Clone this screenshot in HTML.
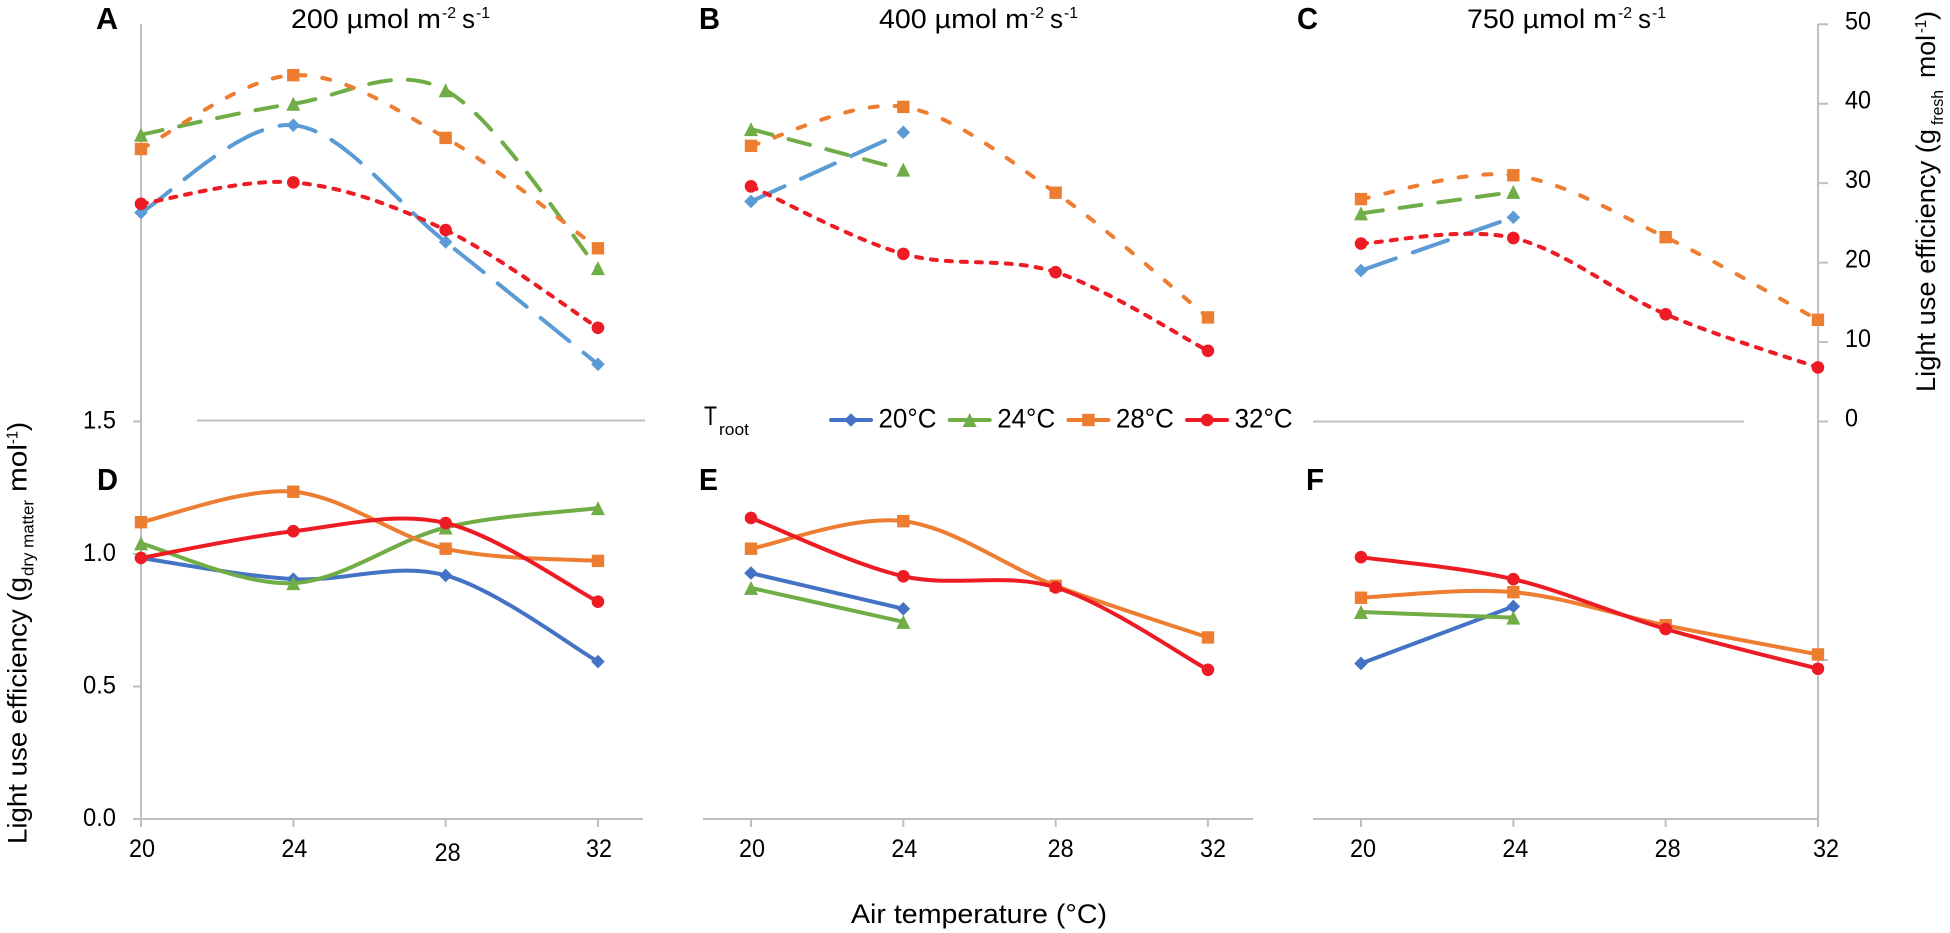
<!DOCTYPE html>
<html lang="en">
<head>
<meta charset="utf-8">
<title>Light use efficiency charts</title>
<style>
html,body{margin:0;padding:0;background:#fff;width:1950px;height:933px;overflow:hidden}
svg{display:block;font-family:"Liberation Sans",sans-serif;fill:#000}
</style>
</head>
<body>
<svg id="chart" xmlns="http://www.w3.org/2000/svg" width="1950" height="933" viewBox="0 0 1950 933">
  <rect x="0" y="0" width="1950" height="933" fill="#fff"/>

  <g id="axes"></g>
  <g id="series"></g>

  <g font-weight="bold" font-size="31">
    <text x="96" y="29" textLength="22" lengthAdjust="spacingAndGlyphs">A</text>
    <text x="699" y="29" textLength="21" lengthAdjust="spacingAndGlyphs">B</text>
    <text x="1297" y="29" textLength="21" lengthAdjust="spacingAndGlyphs">C</text>
    <text x="97" y="490" textLength="21" lengthAdjust="spacingAndGlyphs">D</text>
    <text x="699" y="490" textLength="19" lengthAdjust="spacingAndGlyphs">E</text>
    <text x="1306" y="490" textLength="18" lengthAdjust="spacingAndGlyphs">F</text>
  </g>

  <g font-size="27">
    <text x="291" y="28" textLength="150" lengthAdjust="spacingAndGlyphs">200 µmol m</text>
    <text x="442" y="18" font-size="16" textLength="14" lengthAdjust="spacingAndGlyphs">-2</text>
    <text x="462" y="28" textLength="13" lengthAdjust="spacingAndGlyphs">s</text>
    <text x="476" y="18" font-size="16" textLength="14" lengthAdjust="spacingAndGlyphs">-1</text>
  </g>
  <g font-size="27">
    <text x="879" y="28" textLength="150" lengthAdjust="spacingAndGlyphs">400 µmol m</text>
    <text x="1030" y="18" font-size="16" textLength="14" lengthAdjust="spacingAndGlyphs">-2</text>
    <text x="1050" y="28" textLength="13" lengthAdjust="spacingAndGlyphs">s</text>
    <text x="1064" y="18" font-size="16" textLength="14" lengthAdjust="spacingAndGlyphs">-1</text>
  </g>
  <g font-size="27">
    <text x="1467" y="28" textLength="150" lengthAdjust="spacingAndGlyphs">750 µmol m</text>
    <text x="1618" y="18" font-size="16" textLength="14" lengthAdjust="spacingAndGlyphs">-2</text>
    <text x="1638" y="28" textLength="13" lengthAdjust="spacingAndGlyphs">s</text>
    <text x="1652" y="18" font-size="16" textLength="14" lengthAdjust="spacingAndGlyphs">-1</text>
  </g>

  <g font-size="27" transform="translate(26.5 0) rotate(-90)">
    <text x="-844" y="0" textLength="267" lengthAdjust="spacingAndGlyphs">Light use efficiency (g</text>
    <text x="-576" y="7" font-size="17" textLength="76" lengthAdjust="spacingAndGlyphs">dry matter</text>
    <text x="-492" y="0" textLength="48" lengthAdjust="spacingAndGlyphs">mol</text>
    <text x="-444" y="-9" font-size="16" textLength="13" lengthAdjust="spacingAndGlyphs">-1</text>
    <text x="-431" y="0" textLength="9" lengthAdjust="spacingAndGlyphs">)</text>
  </g>
  <g font-size="27" transform="translate(1935 0) rotate(-90)">
    <text x="-392" y="0" textLength="263" lengthAdjust="spacingAndGlyphs">Light use efficiency (g</text>
    <text x="-125" y="8" font-size="17" textLength="35" lengthAdjust="spacingAndGlyphs">fresh</text>
    <text x="-78" y="0" textLength="43" lengthAdjust="spacingAndGlyphs">mol</text>
    <text x="-33" y="-9" font-size="16" textLength="13" lengthAdjust="spacingAndGlyphs">-1</text>
    <text x="-20" y="0" textLength="9" lengthAdjust="spacingAndGlyphs">)</text>
  </g>

  <text x="851" y="923" font-size="27" textLength="256" lengthAdjust="spacingAndGlyphs">Air temperature (°C)</text>

  <g id="legend">
    <text x="704" y="425" font-size="27" textLength="13" lengthAdjust="spacingAndGlyphs">T</text>
    <text x="719" y="435" font-size="17" textLength="30" lengthAdjust="spacingAndGlyphs">root</text>
  </g>
</svg>

<script>
const categories = [20, 24, 28, 32];
const seriesNames = ['20°C', '24°C', '28°C', '32°C'];

const panelA20 = [26.3, 37.3, 22.6, 7.2];
const panelA24 = [36.1, 40.0, 41.7, 19.3];
const panelA28 = [34.3, 43.6, 35.7, 21.8];
const panelA32 = [27.4, 30.1, 24.1, 11.8];

const panelB20 = [27.7, 36.4, null, null];
const panelB24 = [36.8, 31.7, null, null];
const panelB28 = [34.7, 39.6, 28.8, 13.1];
const panelB32 = [29.6, 21.1, 18.8, 8.9];

const panelC20 = [19.0, 25.7, null, null];
const panelC24 = [26.2, 28.9, null, null];
const panelC28 = [28.0, 31.0, 23.2, 12.8];
const panelC32 = [22.4, 23.1, 13.5, 6.8];

const panelD20 = [0.985, 0.905, 0.919, 0.594];
const panelD24 = [1.04, 0.89, 1.10, 1.173];
const panelD28 = [1.12, 1.235, 1.02, 0.974];
const panelD32 = [0.985, 1.086, 1.117, 0.82];

const panelE20 = [0.928, 0.793, null, null];
const panelE24 = [0.872, 0.744, null, null];
const panelE28 = [1.02, 1.124, 0.88, 0.685];
const panelE32 = [1.136, 0.916, 0.874, 0.563];

const panelF20 = [0.587, 0.802, null, null];
const panelF24 = [0.781, 0.76, null, null];
const panelF28 = [0.835, 0.856, 0.731, 0.621];
const panelF32 = [0.988, 0.905, 0.717, 0.567];

const freshTicks = [50, 40, 30, 20, 10, 0];
const dryTicks = [1.5, 1.0, 0.5, 0.0];
const dryTickLabels = ['1.5', '1.0', '0.5', '0.0'];
const xTickLabels = ['20', '24', '28', '32'];

const NS = 'http://www.w3.org/2000/svg';
const axesG = document.getElementById('axes');
const seriesG = document.getElementById('series');
const legendG = document.getElementById('legend');

function xA(c) { return 141 + (c - 20) * 38.08; }
function xB(c) { return 751 + (c - 20) * 38.08; }
function xC(c) { return 1361 + (c - 20) * 38.08; }
function yFresh(v) { return 421.5 - v * 7.944; }
function yDry(v) { return 819 - v * 265; }

function make(tag, attrs, parent) {
  const el = document.createElementNS(NS, tag);
  for (const k in attrs) el.setAttribute(k, attrs[k]);
  parent.appendChild(el);
  return el;
}

function grayLine(x1, y1, x2, y2, name) {
  const el = make('line', { x1: x1, y1: y1, x2: x2, y2: y2, stroke: '#bfbfbf', 'stroke-width': 2 }, axesG);
  
  
}

function label(str, x, y, width, name) {
  const el = make('text', { x: x, y: y, 'font-size': 25, textLength: width, lengthAdjust: 'spacingAndGlyphs' }, axesG);
  el.textContent = str;
  
  
}

function markerPath(shape, x, y) {
  if (shape === 'diamond') return 'M' + x + ' ' + (y - 6.8) + 'L' + (x + 6.8) + ' ' + y + 'L' + x + ' ' + (y + 6.8) + 'L' + (x - 6.8) + ' ' + y + 'Z';
  if (shape === 'triangle') return 'M' + x + ' ' + (y - 7) + 'L' + (x + 7) + ' ' + (y + 7) + 'L' + (x - 7) + ' ' + (y + 7) + 'Z';
  if (shape === 'square') return 'M' + (x - 6.2) + ' ' + (y - 6.2) + 'h12.4v12.4h-12.4Z';
  return 'M' + (x - 6.3) + ' ' + y + 'a6.3 6.3 0 1 0 12.6 0a6.3 6.3 0 1 0 -12.6 0Z';
}

function smoothPath(pts) {
  let d = 'M' + pts[0][0] + ' ' + pts[0][1];
  for (let i = 0; i < pts.length - 1; i++) {
    const p0 = pts[Math.max(i - 1, 0)];
    const p1 = pts[i];
    const p2 = pts[i + 1];
    const p3 = pts[Math.min(i + 2, pts.length - 1)];
    d += 'C' + (p1[0] + (p2[0] - p0[0]) / 6) + ' ' + (p1[1] + (p2[1] - p0[1]) / 6) + ' ' +
      (p2[0] - (p3[0] - p1[0]) / 6) + ' ' + (p2[1] - (p3[1] - p1[1]) / 6) + ' ' + p2[0] + ' ' + p2[1];
  }
  return d;
}

function drawSeries(values, xFn, yFn, color, dash, width, shape, name) {
  const pts = [];
  categories.forEach(function (c, i) {
    if (values[i] !== null) pts.push([xFn(c), yFn(values[i])]);
  });
  const g = make('g', {}, seriesG);
  
  
  const path = make('path', { d: smoothPath(pts), fill: 'none', stroke: color, 'stroke-width': width, 'stroke-dasharray': dash, 'stroke-linecap': 'round' }, g);
  
  
  pts.forEach(function (p) {
    const m = make('path', { d: markerPath(shape, p[0], p[1]), fill: color }, g);
    
    
  });
}

/* axes */
grayLine(141, 24, 141, 827, 'left-y-axis');
grayLine(1818, 24, 1818, 827, 'right-y-axis');
grayLine(133, 819, 643, 819, 'x-axis-left-panel');
grayLine(703, 819, 1253, 819, 'x-axis-middle-panel');
grayLine(1313, 819, 1818, 819, 'x-axis-right-panel');
grayLine(197, 420.5, 645, 420.5, 'separator-line-left');
grayLine(1313, 421.5, 1744, 421.5, 'separator-line-right');
grayLine(1818, 660, 1828, 660, 'right-axis-lower-tick');

categories.forEach(function (c, i) {
  grayLine(xA(c), 819, xA(c), 827, 'x-tick-left-panel');
  grayLine(xB(c), 819, xB(c), 827, 'x-tick-middle-panel');
  grayLine(xC(c), 819, xC(c), 827, 'x-tick-right-panel');
  const lift = i === 2 ? 4 : 0;
  label(xTickLabels[i], xA(c) - 12 + (i === 2 ? 1 : 0), 857 + lift, 26, 'x-tick-label-left-panel');
  label(xTickLabels[i], xB(c) - 12 + (i >= 2 ? 4 : 0), 857, 26, 'x-tick-label-middle-panel');
  label(xTickLabels[i], xC(c) - 11 + (i === 3 ? 6 : 0), 857, 26, 'x-tick-label-right-panel');
});

dryTicks.forEach(function (v, i) {
  grayLine(133, yDry(v), 141, yDry(v), 'left-y-tick');
  label(dryTickLabels[i], 83, yDry(v) + 7, 33, 'left-y-tick-label');
});

freshTicks.forEach(function (v) {
  grayLine(1818, yFresh(v), 1828, yFresh(v), 'right-y-tick');
  const s = String(v);
  label(s, 1845, yFresh(v) + 5, s.length === 2 ? 26 : 13, 'right-y-tick-label');
});

/* top panels: fresh-weight scale, dashed lines */
const topBlue = '#5b9bd5', green = '#70ad47', orange = '#ed7d31', red = '#ed1c24', lowBlue = '#4472c4';
const dashBlue = '37 18', dashGreen = '22 17', dashOrange = '8 17', dashRed = '6 9';

drawSeries(panelA20, xA, yFresh, topBlue, dashBlue, 4, 'diamond', 'panel-a-series-20');
drawSeries(panelA24, xA, yFresh, green, dashGreen, 4, 'triangle', 'panel-a-series-24');
drawSeries(panelA28, xA, yFresh, orange, dashOrange, 4, 'square', 'panel-a-series-28');
drawSeries(panelA32, xA, yFresh, red, dashRed, 4, 'circle', 'panel-a-series-32');

drawSeries(panelB20, xB, yFresh, topBlue, dashBlue, 4, 'diamond', 'panel-b-series-20');
drawSeries(panelB24, xB, yFresh, green, dashGreen, 4, 'triangle', 'panel-b-series-24');
drawSeries(panelB28, xB, yFresh, orange, dashOrange, 4, 'square', 'panel-b-series-28');
drawSeries(panelB32, xB, yFresh, red, dashRed, 4, 'circle', 'panel-b-series-32');

drawSeries(panelC20, xC, yFresh, topBlue, dashBlue, 4, 'diamond', 'panel-c-series-20');
drawSeries(panelC24, xC, yFresh, green, dashGreen, 4, 'triangle', 'panel-c-series-24');
drawSeries(panelC28, xC, yFresh, orange, dashOrange, 4, 'square', 'panel-c-series-28');
drawSeries(panelC32, xC, yFresh, red, dashRed, 4, 'circle', 'panel-c-series-32');

/* bottom panels: dry-matter scale, solid lines */
drawSeries(panelD20, xA, yDry, lowBlue, 'none', 4, 'diamond', 'panel-d-series-20');
drawSeries(panelD24, xA, yDry, green, 'none', 4, 'triangle', 'panel-d-series-24');
drawSeries(panelD28, xA, yDry, orange, 'none', 4, 'square', 'panel-d-series-28');
drawSeries(panelD32, xA, yDry, red, 'none', 4, 'circle', 'panel-d-series-32');

drawSeries(panelE20, xB, yDry, lowBlue, 'none', 4, 'diamond', 'panel-e-series-20');
drawSeries(panelE24, xB, yDry, green, 'none', 4, 'triangle', 'panel-e-series-24');
drawSeries(panelE28, xB, yDry, orange, 'none', 4, 'square', 'panel-e-series-28');
drawSeries(panelE32, xB, yDry, red, 'none', 4, 'circle', 'panel-e-series-32');

drawSeries(panelF20, xC, yDry, lowBlue, 'none', 4, 'diamond', 'panel-f-series-20');
drawSeries(panelF24, xC, yDry, green, 'none', 4, 'triangle', 'panel-f-series-24');
drawSeries(panelF28, xC, yDry, orange, 'none', 4, 'square', 'panel-f-series-28');
drawSeries(panelF32, xC, yDry, red, 'none', 4, 'circle', 'panel-f-series-32');

/* legend */
const legendColors = [lowBlue, green, orange, red];
const legendShapes = ['diamond', 'triangle', 'square', 'circle'];
seriesNames.forEach(function (name, i) {
  const left = 831 + i * 118.7;
  const g = make('g', {}, legendG);
  
  
  const ln = make('line', { x1: left, y1: 420, x2: left + 40, y2: 420, stroke: legendColors[i], 'stroke-width': 4, 'stroke-linecap': 'round' }, g);
  
  
  const mk = make('path', { d: markerPath(legendShapes[i], left + 20, 420), fill: legendColors[i] }, g);
  
  
  const tx = make('text', { x: left + 47.5, y: 427.5, 'font-size': 27, textLength: 58, lengthAdjust: 'spacingAndGlyphs' }, g);
  tx.textContent = name;
  
  
});
</script>
</body>
</html>
